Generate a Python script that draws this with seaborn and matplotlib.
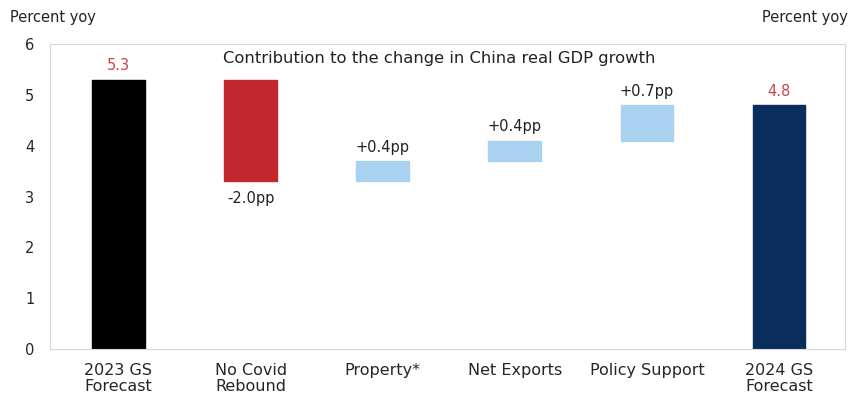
"""
Waterfall: contribution to the change in China real GDP growth (2023 -> 2024 GS forecast).
"""

import matplotlib
matplotlib.use("Agg")
import matplotlib.pyplot as plt
import pandas as pd
import seaborn as sns

categories = ["2023 GS\nForecast", "No Covid\nRebound", "Property*",
              "Net Exports", "Policy Support", "2024 GS\nForecast"]
bar_bottom = [0.0, 3.3, 3.3, 3.7, 4.1, 0.0]
bar_top = [5.3, 5.3, 3.7, 4.1, 4.8, 4.8]
bar_labels = ["5.3", "-2.0pp", "+0.4pp", "+0.4pp", "+0.7pp", "4.8"]
bar_colors = ["#000000", "#c0282d", "#a8d2f0", "#a8d2f0", "#a8d2f0", "#0a2d5e"]
label_colors = ["#c8454a", "#222222", "#222222", "#222222", "#222222", "#c8454a"]

df = pd.DataFrame({
    "category": categories,
    "bottom": bar_bottom,
    "top": bar_top,
})
df["height"] = df["top"] - df["bottom"]

sns.set_theme(style="white")
plt.rcParams["font.family"] = ["DejaVu Sans"]

fig = plt.figure(figsize=(8.58, 3.93), dpi=100)
ax = fig.add_axes([0.058, 0.112, 0.927, 0.776])

# single bar call so the bottom array lines up with the bars
sns.barplot(
    data=df, x="category", y="height", bottom=df["bottom"].values,
    color="#a8d2f0", width=0.4, ax=ax, saturation=1, errorbar=None,
)
for patch, col in zip(ax.patches, bar_colors):
    patch.set_facecolor(col)
    patch.set_edgecolor(col)

for i, row in df.iterrows():
    if bar_labels[i].startswith("-"):
        ax.text(i, row["bottom"] - 0.2, bar_labels[i], ha="center", va="top",
                fontsize=10.5, color=label_colors[i])
    else:
        ax.text(i, row["top"] + 0.12, bar_labels[i], ha="center", va="bottom",
                fontsize=10.5, color=label_colors[i])

ax.text(0.489, 0.978, "Contribution to the change in China real GDP growth",
        transform=ax.transAxes, ha="center", va="top", fontsize=11.8, color="#222222")

ax.set_ylim(0, 6)
ax.set_xlim(-0.52, 5.5)
ax.set_yticks(range(0, 7))
ax.set_xlabel("")
ax.set_ylabel("")
ax.tick_params(axis="y", labelsize=10.5, length=3, color="#bbbbbb", pad=8)
ax.tick_params(axis="x", labelsize=11.5, length=0, pad=10)
for lbl in ax.get_xticklabels():
    lbl.set_linespacing(1.1)
for spine in ax.spines.values():
    spine.set_color("#d8d8d8")
    spine.set_linewidth(0.8)

fig.text(0.012, 0.975, "Percent yoy", ha="left", va="top", fontsize=10.5, color="#222222")
fig.text(0.888, 0.975, "Percent yoy", ha="left", va="top", fontsize=10.5, color="#222222")

fig.savefig("out.png", dpi=100)
plt.close(fig)
